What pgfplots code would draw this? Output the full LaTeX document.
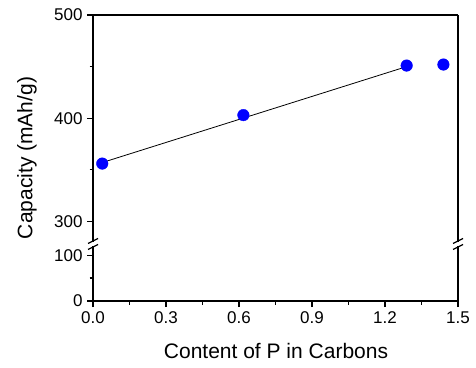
\documentclass[border=0pt]{standalone}
\usepackage{pgfplots}
\pgfplotsset{compat=1.18}
\usepackage{fontspec}
\setmainfont{Liberation Sans}

\definecolor{ptblue}{RGB}{0,0,255}

\pgfplotsset{
  brokenaxis/.style={
    scale only axis,
    width=365pt,
    xmin=0, xmax=1.5,
    axis line style={line width=1.5pt},
    every tick/.style={line width=1.3pt, black},
    major tick length=6pt,
    minor tick length=3.5pt,
    tick align=outside,
    ytick pos=left,
    tick label style={font=\fontsize{17}{17}\selectfont},
    /pgf/number format/assume math mode=true,
    minor y tick num=1,
  },
}

\begin{document}
\begin{tikzpicture}
\path[use as bounding box] (0pt,0pt) rectangle (476pt,367pt);

% upper part of the broken axis: 280 to 500
\begin{axis}[brokenaxis,
  at={(93pt,125pt)}, anchor=south west,
  height=227pt,
  ymin=280, ymax=500,
  ytick={300,400,500},
  axis x line*=top, axis y line*=box,
  xtick=\empty,
  yticklabel style={xshift=-1pt},
]
  % linear trend through the first three samples
  \addplot[black, line width=0.8pt] coordinates {(0.038,357) (1.289,450)};
  \addplot[only marks, mark=*, mark size=5.8pt, ptblue, mark options={draw=ptblue, fill=ptblue}]
    coordinates {(0.038,356) (0.618,403) (1.289,451) (1.440,452)};
\end{axis}

% lower part of the broken axis: 0 to 120
\begin{axis}[brokenaxis,
  at={(93pt,66pt)}, anchor=south west,
  height=55pt,
  ymin=0, ymax=120,
  ytick={0,100},
  axis x line*=bottom, axis y line*=box,
  xtick={0,0.3,0.6,0.9,1.2,1.5},
  minor x tick num=1,
  xticklabel style={/pgf/number format/fixed, /pgf/number format/precision=1,
    /pgf/number format/fixed zerofill, yshift=-1pt},
  yticklabel style={xshift=-1pt},
]
\end{axis}

% break marks on both y axes
\foreach \xx in {93,458} {
  \draw[line width=1.3pt] (\xx pt-5pt,123.5pt) -- (\xx pt+5pt,128.5pt);
  \draw[line width=1.3pt] (\xx pt-5pt,117.5pt) -- (\xx pt+5pt,122.5pt);
}

\node[rotate=90, font=\fontsize{21}{21}\selectfont] at (27pt,209pt) {Capacity (mAh/g)};
\node[font=\fontsize{21}{21}\selectfont] at (276pt,16pt) {Content of P in Carbons};
\end{tikzpicture}
\end{document}
